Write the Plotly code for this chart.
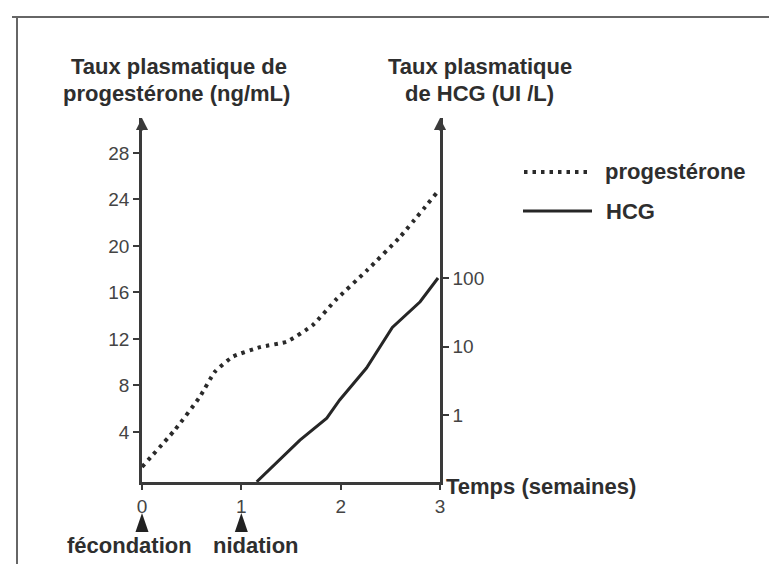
import plotly.graph_objects as go

# ---- data ----
prog_weeks = [0.0, 0.33, 0.58, 0.735, 0.916, 1.19, 1.457, 1.72, 1.95, 2.265, 2.6, 2.967]
prog_values = [1.0, 4.17, 7.0, 9.19, 10.48, 11.3, 11.77, 13.2, 15.35, 17.9, 20.8, 24.56]

hcg_weeks = [1.155, 1.59, 1.86, 1.99, 2.26, 2.52, 2.8, 2.98]
hcg_values = [0.106, 0.43, 0.9, 1.66, 4.85, 19.0, 45.0, 100.0]

x_ticks = [0, 1, 2, 3]
prog_ticks = [4, 8, 12, 16, 20, 24, 28]
hcg_ticks = [1, 10, 100]
hcg_ticktext = ["1", "10", "100"]

event_weeks = [0, 1]
event_labels = ["fécondation", "nidation"]

# ---- layout geometry (pixels) ----
W, H = 769, 564
L, R, T, B = 142, 440, 118, 482
X_MAX = 3.0

def px(xp):
    return (xp - L) / (R - L)

def py(yp):
    return (B - yp) / (B - T)

TXT = "#2e2e2e"
AX = "#3a3a3a"
FONT = "Liberation Sans, Arial, Helvetica, sans-serif"

fig = go.Figure()
fig.add_trace(go.Scatter(
    x=prog_weeks, y=prog_values, mode="lines", name="progestérone",
    line=dict(color="#2a2a2a", width=4, dash="3.5px,5px", shape="spline", smoothing=0.5),
    yaxis="y", showlegend=False, cliponaxis=False))
fig.add_trace(go.Scatter(
    x=hcg_weeks, y=hcg_values, mode="lines", name="HCG",
    line=dict(color="#262626", width=3),
    yaxis="y2", showlegend=False, cliponaxis=False))

fig.update_layout(
    width=W, height=H, autosize=False,
    margin=dict(l=L, r=W - R, t=T, b=H - B, pad=0),
    paper_bgcolor="white", plot_bgcolor="white",
    font=dict(family=FONT, color=TXT),
    xaxis=dict(range=[0, X_MAX], tickvals=x_ticks, showgrid=False, zeroline=False,
               showline=True, linecolor=AX, linewidth=2.5,
               ticks="outside", ticklen=5, tickwidth=2, tickcolor=AX,
               tickfont=dict(size=19, color="#444", family=FONT)),
    yaxis=dict(range=[-0.30, 31.0], tickvals=prog_ticks, showgrid=False, zeroline=False,
               showline=True, linecolor=AX, linewidth=2.5,
               ticks="outside", ticklen=6, tickwidth=2, tickcolor=AX,
               tickfont=dict(size=19, color="#444", family=FONT)),
    yaxis2=dict(type="log", range=[-0.978, 4.336], overlaying="y", side="right",
                tickvals=hcg_ticks, ticktext=hcg_ticktext, showgrid=False, zeroline=False,
                showline=True, linecolor=AX, linewidth=2.5,
                ticks="outside", ticklen=6, tickwidth=2, tickcolor=AX,
                tickfont=dict(size=19, color="#444", family=FONT)),
)

ann = []
bold = dict(size=22, color=TXT, family=FONT, weight="bold")
# axis titles
ann.append(dict(x=px(179), y=py(66), xref="paper", yref="paper", text="Taux plasmatique de",
                showarrow=False, font=bold, xanchor="center", yanchor="middle"))
ann.append(dict(x=px(176), y=py(93), xref="paper", yref="paper", text="progestérone (ng/mL)",
                showarrow=False, font=bold, xanchor="center", yanchor="middle"))
ann.append(dict(x=px(480), y=py(66), xref="paper", yref="paper", text="Taux plasmatique",
                showarrow=False, font=bold, xanchor="center", yanchor="middle"))
ann.append(dict(x=px(479), y=py(93), xref="paper", yref="paper", text="de HCG (UI /L)",
                showarrow=False, font=bold, xanchor="center", yanchor="middle"))
ann.append(dict(x=px(444), y=py(486), xref="paper", yref="paper", text="Temps (semaines)",
                showarrow=False, font=bold, xanchor="left", yanchor="middle"))
# axis arrowheads
for xa in (0, 1):
    ann.append(dict(x=xa, y=1, xref="paper", yref="paper", ax=0, ay=14, text="",
                    showarrow=True, arrowhead=2, arrowsize=1.1, arrowwidth=2.2,
                    arrowcolor=AX))
# event labels
for w, lab, sh in zip(event_weeks, event_labels, (-13, 15)):
    ann.append(dict(x=w, y=py(545), xref="x", yref="paper", text=lab, showarrow=False,
                    font=bold, xanchor="center", yanchor="middle", xshift=sh))
# legend
ann.append(dict(x=px(603), y=py(171), xref="paper", yref="paper", text="progestérone",
                showarrow=False, font=bold, xanchor="left", yanchor="middle"))
ann.append(dict(x=px(604), y=py(211), xref="paper", yref="paper", text="HCG",
                showarrow=False, font=bold, xanchor="left", yanchor="middle"))
fig.update_layout(annotations=ann)

shapes = []
# event triangles (paper coords derived from the event weeks)
dx = 6.5 / (R - L)
for w in event_weeks:
    xc = w / X_MAX
    shapes.append(dict(type="path", xref="paper", yref="paper",
                       path=f"M {xc - dx},{py(532)} L {xc + dx},{py(532)} L {xc},{py(513)} Z",
                       fillcolor="#222", line=dict(width=0)))
# legend samples
shapes.append(dict(type="line", xref="paper", yref="paper", x0=px(524), x1=px(592),
                   y0=py(172), y1=py(172), line=dict(color="#2a2a2a", width=4, dash="3.5px,5px")))
shapes.append(dict(type="line", xref="paper", yref="paper", x0=px(523), x1=px(592),
                   y0=py(211), y1=py(211), line=dict(color="#262626", width=3)))
# frame
shapes.append(dict(type="line", xref="paper", yref="paper", x0=px(12), x1=px(769),
                   y0=py(17), y1=py(17), line=dict(color="#666", width=2)))
shapes.append(dict(type="line", xref="paper", yref="paper", x0=px(17), x1=px(17),
                   y0=py(17), y1=py(564), line=dict(color="#666", width=2)))
fig.update_layout(shapes=shapes)

fig.write_html("out.html", config={"displayModeBar": False},
               post_script="document.body.style.margin='0px';document.body.style.overflow='hidden';")
